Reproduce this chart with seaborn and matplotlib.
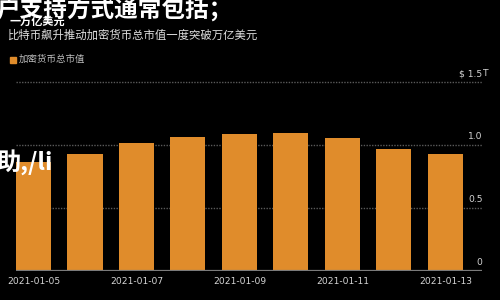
import matplotlib
matplotlib.use('Agg')
import matplotlib.pyplot as plt
import matplotlib.transforms as mtransforms
import seaborn as sns
import pandas as pd

# ---- data ----
dates = ['2021-01-05', '2021-01-06', '2021-01-07', '2021-01-08', '2021-01-09',
         '2021-01-10', '2021-01-11', '2021-01-12', '2021-01-13']
values = [0.863, 0.929, 1.013, 1.066, 1.085, 1.098, 1.058, 0.968, 0.931]
tick_idx = [0, 2, 4, 6, 8]
tick_dates = [dates[i] for i in tick_idx]
grid_vals = [0.5, 1.0, 1.5]
ylab_vals = [0, 0.5, 1.0, 1.5]
ylab_text = ['0', '0.5', '1.0', '$ 1.5']

overlay_top = '户支持方式通常包括；'
overlay_small = '一万亿美元'
subtitle = '比特币飙升推动加密货币总市值一度突破万亿美元'
legend_label = '加密货币总市值'
overlay_mid = '助,/li'

ORANGE = '#E08C2B'
CJK = ['Noto Sans CJK SC', 'DejaVu Sans']

sns.set_theme(style='dark')
plt.rcParams['font.family'] = CJK

W, H = 500, 300
fig = plt.figure(figsize=(5, 3), dpi=100, facecolor='black')
ax = fig.add_axes([16 / W, 29 / H, 466 / W, 195.3 / H])
ax.set_facecolor('black')

df = pd.DataFrame({'date': dates, 'value': values})
sns.barplot(data=df, x='date', y='value', color=ORANGE, width=0.68,
            saturation=1, linewidth=0, ax=ax, zorder=3)

ax.set_xlim(-0.34, 8.71)
ax.set_ylim(0, 1.55)
for s in ax.spines.values():
    s.set_visible(False)
ax.grid(False)
ax.set_xlabel('')
ax.set_ylabel('')
ax.set_yticks([])
ax.set_xticks(tick_idx)
ax.set_xticklabels(tick_dates, family='DejaVu Sans')
ax.tick_params(axis='x', length=0, pad=4.5, colors='#d5d5d5', labelsize=6.6)

for g in grid_vals:
    ax.axhline(g, color='#5a5a5a', lw=1.0, ls=(0, (1, 1)), zorder=1)
ax.axhline(0, color='#7a7a7a', lw=1.6, zorder=4)

trans = mtransforms.blended_transform_factory(ax.transAxes, ax.transData)
trans = mtransforms.offset_copy(trans, fig=fig, x=0.5, y=6, units='dots')
for v, t in zip(ylab_vals, ylab_text):
    ax.text(1.0, v, t, transform=trans, ha='right', va='baseline',
            color='#d5d5d5', fontsize=6.6, family='DejaVu Sans')
ax.text(1.0, 1.5, 'T', transform=trans, ha='left', va='baseline',
        color='#d5d5d5', fontsize=6.6, family='DejaVu Sans')

# ---- titles / overlays ----
def fy(py):
    return 1 - py / H

fig.text(-4 / W, fy(9), overlay_top, color='white', fontsize=17,
         fontweight='bold', va='center', ha='left', family=CJK)
fig.text(10 / W, fy(21), overlay_small, color='white', fontsize=8,
         fontweight='bold', va='center', ha='left', family=CJK)
fig.text(8 / W, fy(35), subtitle, color='#e0e0e0', fontsize=8.2,
         va='center', ha='left', family=CJK)
fig.patches.append(plt.Rectangle((10 / W, fy(62.5)), 5.5 / W, 5.5 / H,
                                 transform=fig.transFigure, color=ORANGE))
fig.text(19 / W, fy(59.5), legend_label, color='#bdbdbd', fontsize=6.8,
         va='center', ha='left', family=CJK)
fig.text(-4 / W, fy(162), overlay_mid, color='white', fontsize=17.5,
         fontweight='bold', va='center', ha='left', family=CJK, zorder=10)

fig.savefig('out.png', dpi=100, facecolor='black')
